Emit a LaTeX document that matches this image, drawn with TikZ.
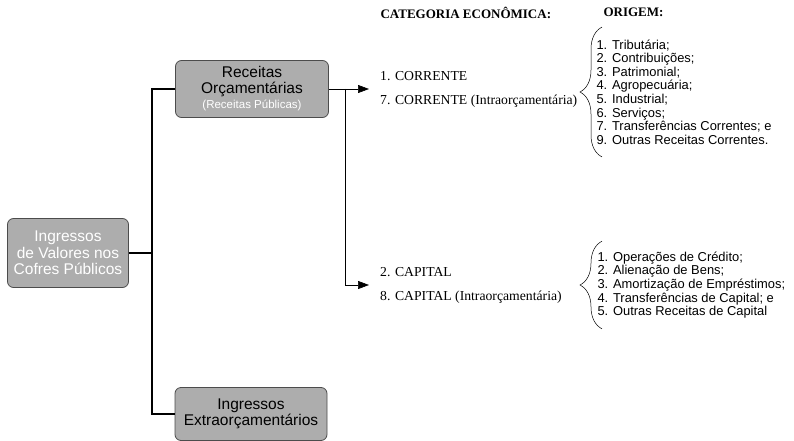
\documentclass[tikz,border=0pt]{standalone}
\usepackage{fontspec}
\setmainfont{Liberation Serif}
\setsansfont{Liberation Sans}
\usetikzlibrary{arrows.meta,decorations.pathreplacing}

\tikzset{
  box/.style={draw=black!70, fill=gray!64, rounded corners=6pt, align=center,
    font=\sffamily\fontsize{15.5}{16}\selectfont, line width=0.8pt},
  tree/.style={line width=1.8pt},
  link/.style={line width=0.6pt},
  tip/.style={-{Triangle[length=11pt,width=8pt]}},
  cat/.style={anchor=west, align=left, inner xsep=11pt, font=\fontsize{13.7}{24}\selectfont},
  lista/.style={anchor=west, align=left, font=\sffamily\fontsize{12.9}{13.6}\selectfont},
  chave/.style={decorate, decoration={brace, amplitude=22pt}, line width=0.5pt},
  titulo/.style={anchor=west, font=\bfseries\fontsize{13}{15}\selectfont}
}

\begin{document}
\begin{tikzpicture}[x=1pt,y=-1pt]
\useasboundingbox (0,0) rectangle (794,441);

% caixas
\node[box, minimum width=121pt, minimum height=69pt, text=white,
  font=\sffamily\fontsize{15.5}{16.5}\selectfont] (ingressos) at (68,253)
  {Ingressos\\de Valores nos\\Cofres Públicos};
\node[box, minimum width=153pt, minimum height=57pt] (receitas) at (252,89)
  {Receitas\\Orçamentárias\\[-1pt]{\fontsize{11.5}{13}\selectfont\color{white}(Receitas Públicas)}};
\node[box, minimum width=152pt, minimum height=53pt] (extra) at (251,414)
  {Ingressos\\Extraorçamentários};

% tronco
\coordinate (tronco) at (152,253);
\draw[tree] (ingressos.east) -- (tronco);
\draw[tree] (receitas.west) -| (tronco) |- (extra.west);

% categoria economica
\node[titulo] (categoria) at (377,13) {CATEGORIA ECONÔMICA:};
\node[titulo] (origem) at (600,12) {ORIGEM:};

\node[cat] (corrente) at (369,89) {1. CORRENTE\\7. CORRENTE (Intraorçamentária)};
\node[cat] (capital) at (369,285) {2. CAPITAL\\8. CAPITAL (Intraorçamentária)};

\coordinate (ramo) at (345,89);
\draw[link, tip] (receitas.east) -- (corrente.west);
\draw[link, tip] (ramo) |- (capital.west);

% origem
\node[lista] (origemcorr) at (593,92) {1. Tributária;\\2. Contribuições;\\3. Patrimonial;\\4. Agropecuária;\\5. Industrial;\\6. Serviços;\\7. Transferências Correntes; e\\9. Outras Receitas Correntes.};
\node[lista] (origemcap) at (594,285) {1. Operações de Crédito;\\2. Alienação de Bens;\\3. Amortização de Empréstimos;\\4. Transferências de Capital; e\\5. Outras Receitas de Capital};

\draw[chave] ([xshift=9pt,yshift=-9pt]origemcorr.south west) -- ([xshift=9pt,yshift=9pt]origemcorr.north west);
\draw[chave] ([xshift=8pt,yshift=-7pt]origemcap.south west) -- ([xshift=8pt,yshift=7pt]origemcap.north west);
\end{tikzpicture}
\end{document}
